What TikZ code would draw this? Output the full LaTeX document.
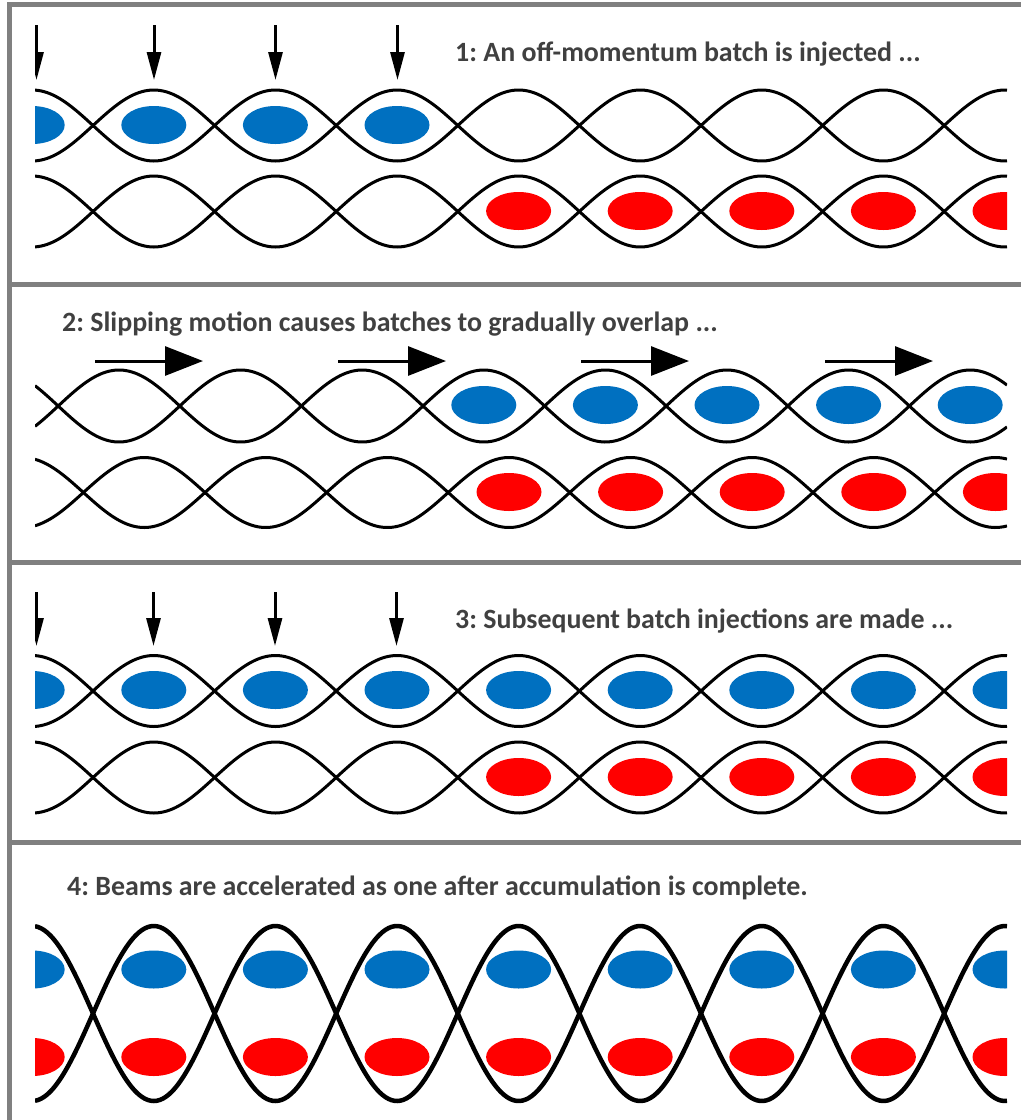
\documentclass[tikz,border=0pt]{standalone}
\usepackage{fontspec}
\setmainfont{Carlito}
\usetikzlibrary{arrows.meta}
\definecolor{bblue}{HTML}{0070C0}
\definecolor{bred}{HTML}{FF0000}
\definecolor{framegray}{HTML}{808080}
\definecolor{txtgray}{HTML}{404040}
\newcommand\mylane[4]{% center, amplitude, peak x, style
  \draw[#4] plot (\x,{#1-#2*cos(1.480263*(\x-#3))});
  \draw[#4] plot (\x,{#1+#2*cos(1.480263*(\x-#3))});}
\frenchspacing
\begin{document}
\begin{tikzpicture}[x=1pt,y=-1pt,
  wave/.style={line width=3pt, black, domain=35:1007, samples=320, smooth},
  bigwave/.style={line width=4.5pt, black, domain=35:1007, samples=320, smooth},
  title/.style={anchor=base west, inner sep=0pt, text=txtgray,
    font=\fontsize{27.9}{33}\selectfont\bfseries},
  framebar/.style={framegray, line width=5pt},
  downarrow/.style={line width=3pt, -{Triangle[width=14pt,length=28pt]}},
  slipArrow/.style={line width=3pt, -{Triangle[width=29pt,length=38pt]}},
  bbunch/.style={fill=bblue},
  rbunch/.style={fill=bred}]
\useasboundingbox (0,0) rectangle (1021,1120);
\fill[white] (0,0) rectangle (1021,1120);

% frame
\draw[framebar] (9.5,1120) -- (9.5,4) -- (1021,4);
\draw[framebar] (7,284) -- (1021,284);
\draw[framebar] (7,562.5) -- (1021,562.5);
\draw[framebar] (7,842.5) -- (1021,842.5);

% titles
\node[title] (t1) at (455,61.7) {1: An off-momentum batch is injected ...};
\node[title] (t2) at (62,331.7) {2: Slipping motion causes batches to gradually overlap ...};
\node[title] (t3) at (455,628.3) {3: Subsequent batch injections are made ...};
\node[title] (t4) at (67,895.7) {4: Beams are accelerated as one after accumulation is complete.};

\begin{scope}
\clip (35,0) rectangle (1007,1120);
% ---- panel 1
\foreach \k in {0,...,3} \fill[bbunch] ({32.2+121.6*\k},125) ellipse [x radius=32.5pt, y radius=19pt];
\foreach \k in {4,...,8} \fill[rbunch] ({32.2+121.6*\k},211) ellipse [x radius=32.5pt, y radius=19pt];
\mylane{125.5}{35.5}{32.2}{wave}
\mylane{211.5}{35.5}{32.2}{wave}
\foreach \ax [count=\i] in {36.5,154,275.5,397.5} {
  \coordinate (p1s\i) at (\ax,25);
  \coordinate (p1e\i) at (\ax,80);
  \draw[downarrow] (p1s\i) -- (p1e\i);
}
% ---- panel 2
\foreach \k in {3,...,7} \fill[bbunch] ({119+121.6*\k},405) ellipse [x radius=32.5pt, y radius=19pt];
\foreach \k in {4,...,8} \fill[rbunch] ({22.6+121.6*\k},492) ellipse [x radius=32.5pt, y radius=19pt];
\mylane{406}{36}{119}{wave}
\mylane{492.5}{35}{22.6}{wave}
\foreach \ax [count=\i] in {95,338,581,825} {
  \coordinate (p2s\i) at (\ax,361);
  \coordinate (p2e\i) at (\ax+108,361);
  \draw[slipArrow] (p2s\i) -- (p2e\i);
}
% ---- panel 3
\foreach \k in {0,...,8} \fill[bbunch] ({32.2+121.6*\k},690) ellipse [x radius=32.5pt, y radius=19pt];
\foreach \k in {4,...,8} \fill[rbunch] ({32.2+121.6*\k},777) ellipse [x radius=32.5pt, y radius=19pt];
\mylane{691}{35.5}{32.2}{wave}
\mylane{777.5}{35.5}{32.2}{wave}
\foreach \ax [count=\i] in {36.5,153.5,275,396.5} {
  \coordinate (p3s\i) at (\ax,592);
  \coordinate (p3e\i) at (\ax,646);
  \draw[downarrow] (p3s\i) -- (p3e\i);
}
% ---- panel 4
\foreach \k in {0,...,8} {
  \fill[bbunch] ({32.2+121.6*\k},969.5) ellipse [x radius=32.5pt, y radius=19pt];
  \fill[rbunch] ({32.2+121.6*\k},1057) ellipse [x radius=32.5pt, y radius=19pt];
}
\mylane{1013.5}{87.5}{32.2}{bigwave}
\end{scope}
\end{tikzpicture}
\end{document}
